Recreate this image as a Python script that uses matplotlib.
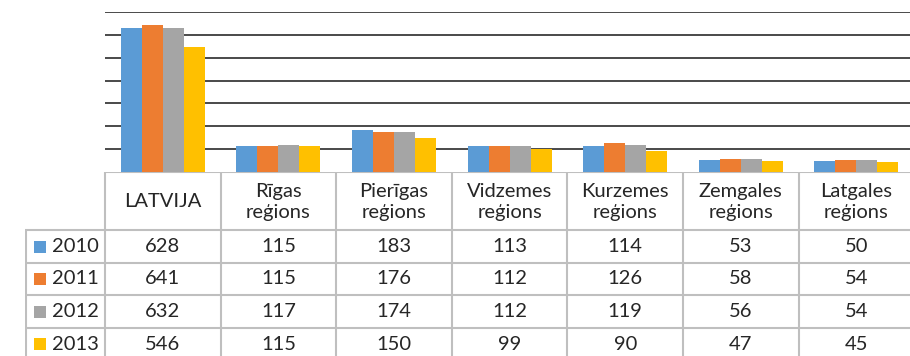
import matplotlib
matplotlib.use('Agg')
import matplotlib.pyplot as plt
import numpy as np

plt.rcParams['font.family'] = ['Lato', 'DejaVu Sans']

regions = ['LATVIJA', 'Rīgas\nreģions', 'Pierīgas\nreģions', 'Vidzemes\nreģions',
           'Kurzemes\nreģions', 'Zemgales\nreģions', 'Latgales\nreģions']
years = ['2010', '2011', '2012', '2013']
v2010 = [628, 115, 183, 113, 114, 53, 50]
v2011 = [641, 115, 176, 112, 126, 58, 54]
v2012 = [632, 117, 174, 112, 119, 56, 54]
v2013 = [546, 115, 150, 99, 90, 47, 45]
series = [v2010, v2011, v2012, v2013]
colors = ['#5B9BD5', '#ED7D31', '#A5A5A5', '#FFC000']

W, H = 910, 356
unit = 115.6          # pixels per category column
left_px = 105         # left edge of first category column
base_px = 172         # baseline of the bars / top of the table
label_px = 80         # width of the row-label column

fig = plt.figure(figsize=(W / 100, H / 100), dpi=100)

# bar chart
ax = fig.add_axes([left_px / W, 1 - base_px / H, 7 * unit / W, 160 / H])
n = len(regions)
xs = np.arange(n)
bw = 0.182
for j, vals in enumerate(series):
    ax.bar(xs + (j - 1.5) * bw, vals, width=bw, color=colors[j], zorder=3)
ax.set_xlim(-0.5, n - 0.5)
ax.set_ylim(0, 700)
ax.set_yticks(range(100, 701, 100))
ax.yaxis.grid(True, color='#3c3c3c', lw=1.3, zorder=0)
ax.tick_params(left=False, bottom=False, labelleft=False, labelbottom=False)
for s in ax.spines.values():
    s.set_visible(False)

# data table below the bars
tax = fig.add_axes([(left_px - label_px) / W, 0, (label_px + 7 * unit) / W, (H - base_px) / H])
x_lab = -0.5 - label_px / unit
tax.set_xlim(x_lab, n - 0.5)
tax.set_ylim(H - base_px, 0)
tax.axis('off')

line_kw = dict(color='#BFBFBF', lw=1.5, solid_capstyle='butt')
row_lines = [58, 91, 123, 156]
# header top line and column separators
tax.plot([-0.5, n - 0.5], [0, 0], **line_kw)
for k in range(n + 1):
    tax.plot([k - 0.5, k - 0.5], [0, H], **line_kw)
tax.plot([x_lab + 0.5 / unit, x_lab + 0.5 / unit], [row_lines[0], H], **line_kw)
for y in row_lines:
    tax.plot([x_lab, n - 0.5], [y, y], **line_kw)

fs = 14.5
for i, name in enumerate(regions):
    tax.text(i, 30, name, ha='center', va='center', fontsize=fs,
             color='#262626', linespacing=1.35)

rows_mid = [74.5, 107, 139.5, 172]
for j, vals in enumerate(series):
    ym = rows_mid[j]
    tax.add_patch(plt.Rectangle((x_lab + 9 / unit, ym - 6), 12 / unit, 12,
                                color=colors[j], lw=0))
    tax.text(x_lab + 27 / unit, ym, years[j], ha='left', va='center',
             fontsize=fs, color='#262626')
    for i, v in enumerate(vals):
        tax.text(i, ym, str(v), ha='center', va='center', fontsize=fs, color='#262626')

fig.savefig('out.png', dpi=100)
